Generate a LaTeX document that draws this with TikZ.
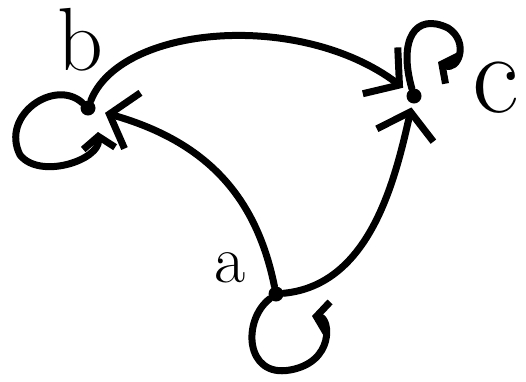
\documentclass[tikz,border=0pt]{standalone}
\usetikzlibrary{arrows.meta}
\begin{document}
\begin{tikzpicture}[x=1bp,y=-1bp,
  vertex/.style={circle,fill=black,inner sep=0pt,minimum size=15bp},
  stroke/.style={line width=7bp,line cap=round,line join=round},
  edge/.style={stroke,
    -{Straight Barb[length=24bp,width=58bp,line width=7bp]}},
  loopedge/.style={stroke,
    -{Straight Barb[length=12bp,width=32bp,line width=7bp]}},
  lbl/.style={inner sep=0pt}]
\useasboundingbox (0,0) rectangle (526,381);
\node[vertex] (a) at (276,294) {};
\node[vertex] (b) at (88,108) {};
\node[vertex] (c) at (414,96) {};
\node[lbl] (la) at (230,268) {\fontsize{68}{68}\selectfont a};
\node[lbl] (lb) at (80,40) {\fontsize{90}{90}\selectfont b};
\node[lbl] (lc) at (496,88) {\fontsize{115}{115}\selectfont c};
% edges
\draw[edge,shorten >=6bp] (b) .. controls (120,25) and (300,10) .. (c);
\draw[edge,shorten >=10bp] (a) .. controls (255,190) and (200,140) .. (b);
\draw[edge,shorten >=4bp] (a) .. controls (370,285) and (395,180) .. (c);
% loops
\draw[loopedge] (b) .. controls (55,78) and (0,115) .. (20,155)
  .. controls (40,180) and (100,160) .. (98,132);
\draw[loopedge] (c) .. controls (398,40) and (415,12) .. (448,28)
  .. controls (470,42) and (458,72) .. (438,62);
\draw[loopedge] (a) .. controls (242,320) and (245,378) .. (290,370)
  .. controls (335,362) and (330,318) .. (312,316);
\end{tikzpicture}
\end{document}
